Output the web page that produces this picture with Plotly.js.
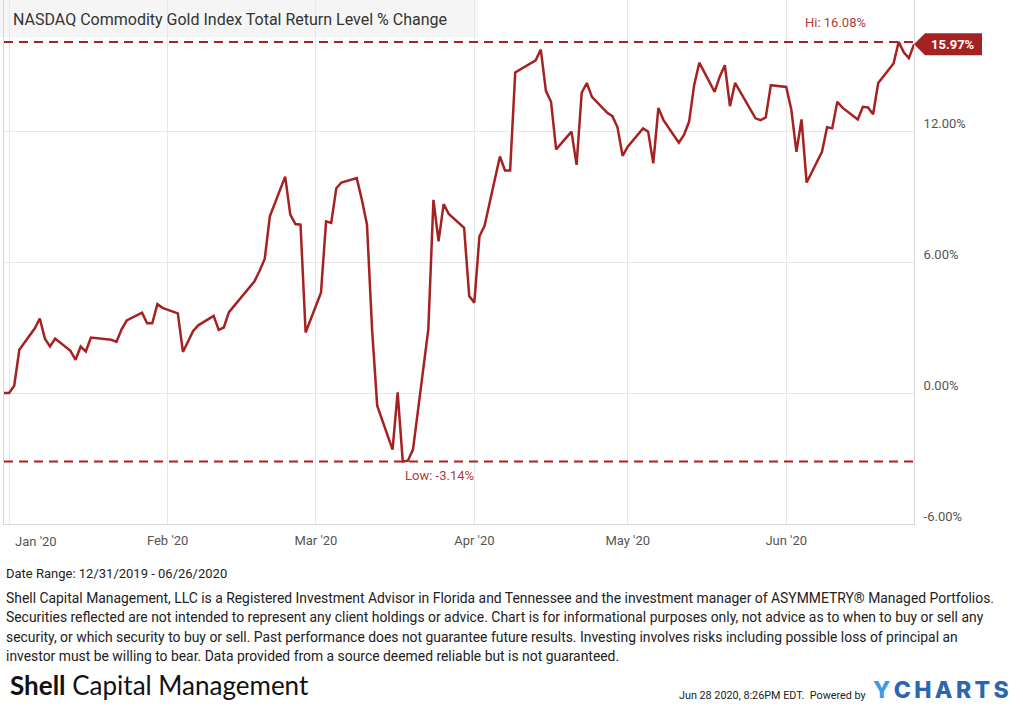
<!DOCTYPE html>
<html>
<head>
<meta charset="utf-8">
<script src="https://cdn.plot.ly/plotly-3.0.1.min.js"></script>
<style>
  html, body { margin: 0; padding: 0; background: #fff; }
  #chart { width: 1023px; height: 706px; }
</style>
</head>
<body>
<div id="chart"></div>
<script>
// ---- Data ----
const dates = [
  '2019-12-31','2020-01-01','2020-01-02','2020-01-03','2020-01-06','2020-01-07','2020-01-08','2020-01-09','2020-01-10',
  '2020-01-13','2020-01-14','2020-01-15','2020-01-16','2020-01-17','2020-01-21','2020-01-22','2020-01-23','2020-01-24',
  '2020-01-27','2020-01-28','2020-01-29','2020-01-30','2020-01-31',
  '2020-02-03','2020-02-04','2020-02-05','2020-02-06','2020-02-07','2020-02-10','2020-02-11','2020-02-12','2020-02-13','2020-02-14',
  '2020-02-18','2020-02-19','2020-02-20','2020-02-21','2020-02-24','2020-02-25','2020-02-26','2020-02-27','2020-02-28',
  '2020-03-02','2020-03-03','2020-03-04','2020-03-05','2020-03-06','2020-03-09','2020-03-10','2020-03-11','2020-03-12','2020-03-13',
  '2020-03-16','2020-03-17','2020-03-18','2020-03-19','2020-03-20','2020-03-23','2020-03-24','2020-03-25','2020-03-26','2020-03-27',
  '2020-03-30','2020-03-31','2020-04-01','2020-04-02','2020-04-03','2020-04-06','2020-04-07','2020-04-08','2020-04-09',
  '2020-04-13','2020-04-14','2020-04-15','2020-04-16','2020-04-17','2020-04-20','2020-04-21','2020-04-22','2020-04-23','2020-04-24',
  '2020-04-27','2020-04-28','2020-04-29','2020-04-30','2020-05-01','2020-05-04','2020-05-05','2020-05-06','2020-05-07','2020-05-08',
  '2020-05-11','2020-05-12','2020-05-13','2020-05-14','2020-05-15','2020-05-18','2020-05-19','2020-05-20','2020-05-21','2020-05-22',
  '2020-05-26','2020-05-27','2020-05-28','2020-05-29','2020-06-01','2020-06-02','2020-06-03','2020-06-04','2020-06-05',
  '2020-06-08','2020-06-09','2020-06-10','2020-06-11','2020-06-12','2020-06-15','2020-06-16','2020-06-17','2020-06-18','2020-06-19',
  '2020-06-22','2020-06-23','2020-06-24','2020-06-25','2020-06-26'
];
const pctChange = [
  0.00, 0.00, 0.33, 1.98, 2.95, 3.41, 2.49, 2.13, 2.49,
  1.93, 1.52, 2.13, 1.90, 2.54, 2.44, 2.34, 2.92, 3.32,
  3.68, 3.19, 3.19, 4.07, 3.90,
  3.65, 1.88, 2.37, 2.84, 3.10, 3.53, 2.89, 3.00, 3.70, 3.98,
  5.12, 5.60, 6.14, 8.09, 9.91, 8.17, 7.74, 7.71, 2.77,
  4.59, 7.86, 7.79, 9.38, 9.64, 9.84, 8.85, 7.71, 2.90, -0.58,
  -2.59, 0.03, -3.14, -3.10, -2.59, 2.92, 8.85, 6.95, 8.65, 8.20,
  7.56, 4.44, 4.14, 7.18, 7.66, 10.83, 10.19, 10.19, 14.68,
  15.24, 15.73, 13.84, 13.34, 11.16, 11.97, 10.45, 13.75, 14.20, 13.56,
  12.83, 12.68, 12.17, 10.86, 11.28, 12.12, 11.97, 10.52, 13.06, 12.50,
  11.46, 11.82, 12.42, 14.10, 15.13, 13.79, 14.49, 15.01, 13.14, 14.20,
  12.58, 12.50, 12.62, 14.10, 14.02, 12.99, 11.05, 12.53, 9.64,
  11.05, 12.17, 12.12, 13.34, 13.07, 12.53, 13.11, 13.08, 12.77, 14.20,
  15.09, 16.08, 15.60, 15.34, 15.97
];
const hiValue = 16.08;
const lowValue = -3.14;
const lastValue = 15.97;

const monthTickVals = ['2020-01-01','2020-02-01','2020-03-01','2020-04-01','2020-05-01','2020-06-01'];
const monthTickText = ['', "Feb '20", "Mar '20", "Apr '20", "May '20", "Jun '20"];
const firstMonthLabel = "Jan '20";
const yTickVals = [-6, 0, 6, 12];
const yTickText = ['-6.00%', '0.00%', '6.00%', '12.00%'];

const titleText = 'NASDAQ Commodity Gold Index Total Return Level % Change';
const dateRangeText = 'Date Range: 12/31/2019 - 06/26/2020';
const disclaimerLines = [
  'Shell Capital Management, LLC is a Registered Investment Advisor in Florida and Tennessee and the investment manager of ASYMMETRY® Managed Portfolios.',
  'Securities reflected are not intended to represent any client holdings or advice. Chart is for informational purposes only, not advice as to when to buy or sell any',
  'security, or which security to buy or sell. Past performance does not guarantee future results. Investing involves risks including possible loss of principal an',
  'investor must be willing to bear. Data provided from a source deemed reliable but is not guaranteed.'
];
const stampText = 'Jun 28 2020, 8:26PM EDT.  Powered by';
const brandY = 'Y';
const brandRest = 'CHARTS';

// ---- Layout helpers (page pixels -> paper coords) ----
const W = 1023, H = 706;
const M = {l: 4, r: 109, t: 0, b: 182};
const PW = W - M.l - M.r, PH = H - M.t - M.b;
const px = X => (X - M.l) / PW;
const py = Y => (PH + M.t - Y) / PH;

const RED = '#a62222';
const FONT = 'Roboto, "Open Sans", sans-serif';
const THIN = '\u2009';

const trace = {
  x: dates, y: pctChange, type: 'scatter', mode: 'lines',
  line: {color: RED, width: 2.5}, hoverinfo: 'skip'
};

const annotations = [
  {xref: 'paper', yref: 'paper', x: px(36), y: py(541), text: firstMonthLabel, showarrow: false,
   xanchor: 'center', yanchor: 'middle', font: {family: FONT, size: 13, color: '#555'}},
  {xref: 'paper', yref: 'y', x: px(835), y: hiValue, yshift: 19, text: 'Hi: ' + hiValue.toFixed(2) + '%', showarrow: false,
   xanchor: 'center', yanchor: 'middle', font: {family: FONT, size: 13, color: '#b33a3a'}},
  {xref: 'paper', yref: 'y', x: px(439), y: lowValue, yshift: -14, text: 'Low: ' + lowValue.toFixed(2) + '%', showarrow: false,
   xanchor: 'center', yanchor: 'middle', font: {family: FONT, size: 13, color: '#b33a3a'}},
  {xref: 'paper', yref: 'y', x: 1, y: lastValue, xshift: 39, text: '<b>' + lastValue.toFixed(2) + '%</b>', showarrow: false,
   xanchor: 'center', yanchor: 'middle', font: {family: FONT, size: 13, color: '#ffffff'}},
  {xref: 'paper', yref: 'paper', x: px(4), y: py(573), text: dateRangeText, showarrow: false,
   xanchor: 'left', yanchor: 'middle', font: {family: FONT, size: 13, color: '#222'}}
];
const lineYs = [598, 617, 637, 656];
disclaimerLines.forEach((t, i) => {
  annotations.push({xref: 'paper', yref: 'paper', x: px(4), y: py(lineYs[i]), text: t, showarrow: false,
    xanchor: 'left', yanchor: 'middle', font: {family: FONT, size: 13.9, color: '#222'}});
});
annotations.push(
  {xref: 'paper', yref: 'paper', x: px(8), y: py(685), text: '<b>Shell</b> Capital Management', showarrow: false,
   xanchor: 'left', yanchor: 'middle', font: {family: 'Lato, ' + FONT, size: 26, color: '#111'}},
  {xref: 'paper', yref: 'paper', x: px(868), y: py(695), text: stampText, showarrow: false,
   xanchor: 'right', yanchor: 'middle', font: {family: FONT, size: 10.8, color: '#222'}},
  {xref: 'paper', yref: 'paper', x: px(871), y: py(690), showarrow: false,
   text: '<span style="color:#3d9ae8">' + brandY + '</span>' + THIN + '<span style="color:#2b67b1">' + brandRest.split('').join(THIN) + '</span>',
   xanchor: 'left', yanchor: 'middle', font: {family: 'Inter, ' + FONT, size: 23, color: '#2b67b1', weight: 800}}
);

const shapes = [
  {type: 'rect', xref: 'paper', yref: 'paper', x0: px(0), x1: px(478), y0: py(37), y1: 1,
   fillcolor: '#f5f5f5', line: {width: 0}, layer: 'below'},
  {type: 'line', xref: 'paper', yref: 'y', x0: 0, x1: 1, y0: hiValue, y1: hiValue,
   line: {color: RED, width: 2, dash: '9px,6px'}},
  {type: 'line', xref: 'paper', yref: 'y', x0: 0, x1: 1, y0: lowValue, y1: lowValue,
   line: {color: RED, width: 2, dash: '9px,6px'}},
  {type: 'path', xref: 'paper', yref: 'y', xsizemode: 'pixel', ysizemode: 'pixel', xanchor: 1, yanchor: lastValue,
   path: 'M 0 0 L 11 11 L 68 11 L 68 -11 L 11 -11 Z', fillcolor: RED, line: {width: 0}}
];

const layout = {
  width: W, height: H,
  margin: M,
  paper_bgcolor: '#fff', plot_bgcolor: '#fff',
  showlegend: false,
  title: {text: titleText, x: 13 / W, xanchor: 'left', y: 1 - 19 / H, yanchor: 'middle',
          font: {family: FONT, size: 16, color: '#333'}},
  xaxis: {
    type: 'date', range: ['2019-12-31', '2020-06-26'],
    tickvals: monthTickVals, ticktext: monthTickText,
    showgrid: true, gridcolor: '#e8e8e8', gridwidth: 1,
    showline: true, mirror: true, linecolor: '#d6d6d6', linewidth: 1,
    ticks: '', tickfont: {family: FONT, size: 13, color: '#555'},
    ticklabelstandoff: 4, zeroline: false, automargin: false, fixedrange: true
  },
  yaxis: {
    side: 'right', range: [-6, 18],
    tickvals: yTickVals, ticktext: yTickText,
    showgrid: true, gridcolor: '#e8e8e8', gridwidth: 1,
    showline: true, mirror: true, linecolor: '#d6d6d6', linewidth: 1,
    ticks: '', tickfont: {family: FONT, size: 13, color: '#555'},
    ticklabelshift: -8, ticklabelstandoff: 6,
    zeroline: false, automargin: false, fixedrange: true
  },
  annotations: annotations,
  shapes: shapes
};

Plotly.newPlot('chart', [trace], layout, {displayModeBar: false, staticPlot: true});
</script>
</body>
</html>
